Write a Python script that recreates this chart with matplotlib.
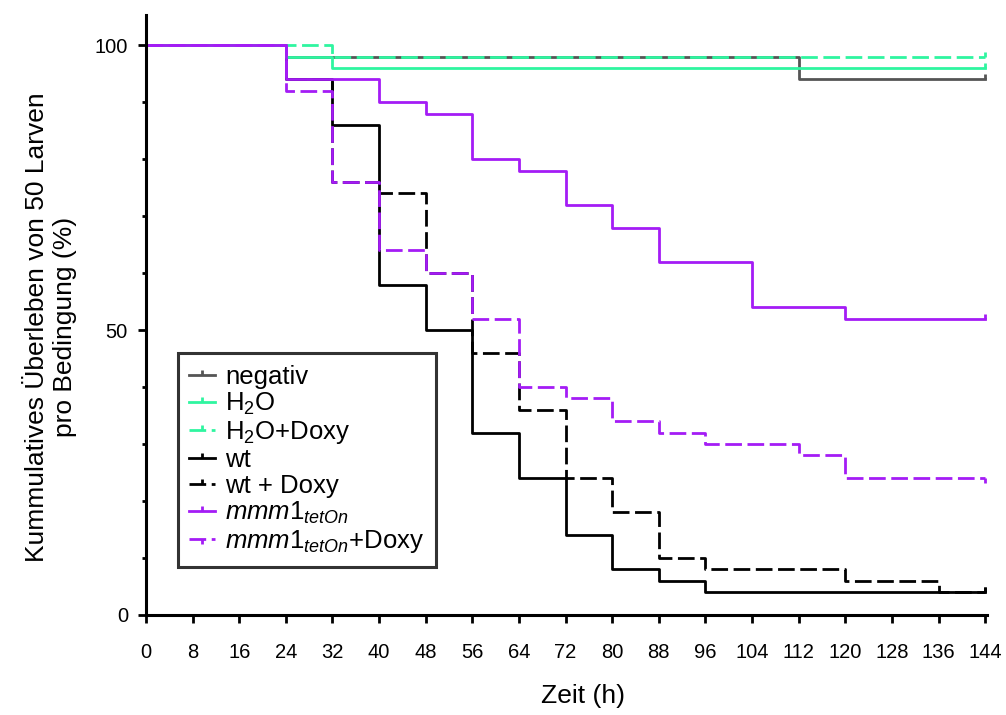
import numpy as np
import matplotlib
matplotlib.use("Agg")
import matplotlib.pyplot as plt

plt.rcParams['font.family'] = ['Liberation Sans', 'DejaVu Sans']
plt.rcParams['mathtext.fontset'] = 'custom'
plt.rcParams['mathtext.rm'] = 'Liberation Sans'
plt.rcParams['mathtext.it'] = 'Liberation Sans:italic'

# Kaplan-Meier steps: event times (h) and survival (%)
t_neg = [0, 24, 112, 144]
s_neg = [100, 98, 94, 94]
t_h2o = [0, 24, 32, 144]
s_h2o = [100, 98, 96, 96]
t_h2o_doxy = [0, 32, 144]
s_h2o_doxy = [100, 98, 98]
t_wt = [0, 24, 32, 40, 48, 56, 64, 72, 80, 88, 96, 144]
s_wt = [100, 94, 86, 58, 50, 32, 24, 14, 8, 6, 4, 4]
t_wt_doxy = [0, 24, 32, 40, 48, 56, 64, 72, 80, 88, 96, 120, 136, 144]
s_wt_doxy = [100, 94, 76, 74, 60, 46, 36, 24, 18, 10, 8, 6, 4, 4]
t_mmm = [0, 24, 40, 48, 56, 64, 72, 80, 88, 104, 120, 144]
s_mmm = [100, 94, 90, 88, 80, 78, 72, 68, 62, 54, 52, 52]
t_mmm_doxy = [0, 24, 32, 40, 48, 56, 64, 72, 80, 88, 96, 112, 120, 144]
s_mmm_doxy = [100, 92, 76, 64, 60, 52, 40, 38, 34, 32, 30, 28, 24, 24]

xticks = np.arange(0, 145, 8)
yticks = [0, 50, 100]
yminor = [10, 20, 30, 40, 60, 70, 80, 90]

green = '#2ff5a0'
purple = '#a41cf5'
dash = (0, (6, 2))
up = [(0, 0), (0, 1)]
down = [(0, 0), (0, -1)]

fig = plt.figure(figsize=(10.06, 7.15), dpi=100)
ax = fig.add_axes([0.1451, 0.1399, 0.836, 0.839])

series = [
    (t_neg, s_neg, '#555555', '-', up, 'negativ'),
    (t_wt, s_wt, 'black', '-', up, 'wt'),
    (t_wt_doxy, s_wt_doxy, 'black', dash, up, 'wt + Doxy'),
    (t_h2o, s_h2o, green, '-', up, 'H$_2$O'),
    (t_h2o_doxy, s_h2o_doxy, green, dash, up, 'H$_2$O+Doxy'),
    (t_mmm, s_mmm, purple, '-', up, r'$\mathit{mmm1}_{\mathit{tetOn}}$'),
    (t_mmm_doxy, s_mmm_doxy, purple, dash, down, r'$\mathit{mmm1}_{\mathit{tetOn}}$+Doxy'),
]
handles = {}
for t, s, c, ls, mk, lab in series:
    ln, = ax.step(t, s, where='post', color=c, linestyle=ls, lw=2.0,
                  marker=mk, markevery=[len(t) - 1], markersize=7,
                  markeredgewidth=2.0, markeredgecolor=c, label=lab)
    handles[lab] = ln

order = ['negativ', 'H$_2$O', 'H$_2$O+Doxy', 'wt', 'wt + Doxy',
         r'$\mathit{mmm1}_{\mathit{tetOn}}$', r'$\mathit{mmm1}_{\mathit{tetOn}}$+Doxy']
leg = ax.legend([handles[k] for k in order], order, loc='lower left',
                bbox_to_anchor=(0.038, 0.08), borderaxespad=0, fontsize=18.5,
                frameon=True, fancybox=False, handlelength=1.0,
                handletextpad=0.4, labelspacing=0.08, borderpad=0.45)
leg.get_frame().set_edgecolor('black')
leg.get_frame().set_linewidth(2.2)

ax.set_xlim(0, 144.3)
ax.set_ylim(0, 105.3)
ax.set_xticks(xticks)
ax.set_yticks(yticks)
ax.set_yticks(yminor, minor=True)
ax.tick_params(direction='out', length=6, width=2, labelsize=14.5, pad=7)
ax.tick_params(axis='y', which='minor', length=3, width=2)
ax.tick_params(axis='x', pad=14)
for side in ['top', 'right']:
    ax.spines[side].set_visible(False)
for side in ['left', 'bottom']:
    ax.spines[side].set_linewidth(2.2)

ax.set_xlabel('Zeit (h)', fontsize=19)
ax.xaxis.set_label_coords(0.52, -0.115)
ax.set_ylabel('Kummulatives Überleben von 50 Larven\npro Bedingung (%)',
              fontsize=19)
ax.yaxis.set_label_coords(-0.082, 0.48)

fig.savefig('out.png', dpi=100)
